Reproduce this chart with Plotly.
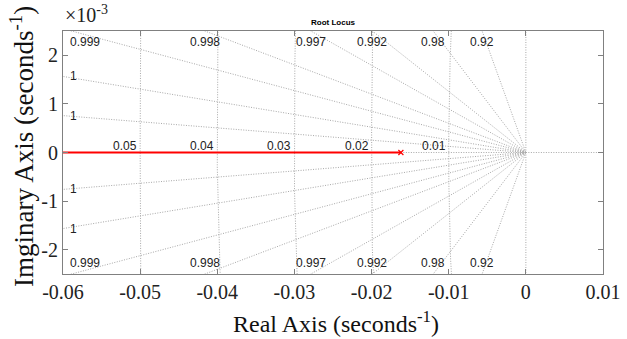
import numpy as np
import plotly.graph_objects as go

# ---- data ----
zeta_values = [0.915, 0.979, 0.9922, 0.9960, 0.9982, 0.9991, 0.99966, 0.99992]
zeta_labels = ["0.92", "0.98", "0.992", "0.997", "0.998", "0.999", "1", "1"]
wn_values = [0.01, 0.02, 0.03, 0.04, 0.05]
wn_labels = ["0.01", "0.02", "0.03", "0.04", "0.05"]
locus_real = [-0.07, -0.0162]
locus_imag = [0.0, 0.0]
pole_real = [-0.0162]
pole_imag = [0.0]
x_ticks = [-0.06, -0.05, -0.04, -0.03, -0.02, -0.01, 0.0, 0.01]
x_ticktext = ["-0.06", "-0.05", "-0.04", "-0.03", "-0.02", "-0.01", "0", "0.01"]
y_ticks = [-0.002, -0.001, 0.0, 0.001, 0.002]
y_ticktext = ["-2", "-1", "0", "1", "2"]

XMIN, XMAX = -0.06, 0.01
YMIN, YMAX = -0.0025, 0.0025

GRID = "#a8a8a8"
LBL = "#222222"
grid_line = dict(color=GRID, width=1, dash="1px,1.5px")

fig = go.Figure()

# real and imaginary axes of the s-plane
fig.add_trace(go.Scatter(x=[XMIN - 0.01, XMAX + 0.01], y=[0, 0], mode="lines",
                         line=grid_line, hoverinfo="skip", showlegend=False))
fig.add_trace(go.Scatter(x=[0, 0], y=[YMIN * 2, YMAX * 2], mode="lines",
                         line=grid_line, hoverinfo="skip", showlegend=False))

annotations = []
lblfont = dict(family="Liberation Sans, Arial", size=12, color=LBL)

# damping rays
for z, lab in zip(zeta_values, zeta_labels):
    s = np.sqrt(1 - z * z) / z
    xe = -0.08
    fig.add_trace(go.Scatter(x=[0, xe, None, 0, xe], y=[0, -s * xe, None, 0, s * xe],
                             mode="lines", line=grid_line, hoverinfo="skip",
                             showlegend=False))
    x_exit = -YMAX / s
    if x_exit > XMIN:
        xl = max(x_exit, XMIN + 0.0028)
        for sign in (1, -1):
            annotations.append(dict(x=xl, y=sign * 0.00227, text=lab, showarrow=False,
                                    xref="x", yref="y", xanchor="center",
                                    yanchor="middle", font=lblfont))
    else:
        yl = s * (-XMIN)
        for sign in (1, -1):
            annotations.append(dict(x=XMIN + 0.0013, y=sign * yl, text=lab,
                                    showarrow=False, xref="x", yref="y",
                                    xanchor="center", yanchor="middle", font=lblfont))

# natural frequency circles
th = np.linspace(np.pi / 2, 3 * np.pi / 2, 2001)
for w, lab in zip(wn_values, wn_labels):
    fig.add_trace(go.Scatter(x=w * np.cos(th), y=w * np.sin(th), mode="lines",
                             line=grid_line, hoverinfo="skip", showlegend=False))
    annotations.append(dict(x=-w, y=0.00013, text=lab, showarrow=False, xref="x",
                            yref="y", xanchor="right", yanchor="middle",
                            xshift=-1, font=lblfont))

# root locus branch
fig.add_trace(go.Scatter(x=locus_real, y=locus_imag, mode="lines",
                         line=dict(color="#ff0000", width=2), hoverinfo="skip",
                         showlegend=False))
fig.add_trace(go.Scatter(x=pole_real, y=pole_imag, mode="markers",
                         marker=dict(symbol="x-thin", size=5,
                                     line=dict(color="#ff0000", width=1.2)),
                         hoverinfo="skip", showlegend=False))

serif = "Liberation Serif, Times New Roman, serif"

# pixel geometry of the plot area
L, R, T, B = 63, 24, 31, 65
W, H = 627, 339
pw, ph = W - L - R, H - T - B


def px_x(px):
    return (px - L) / pw


def px_y(py):
    return 1 - (py - T) / ph


annotations += [
    dict(text="<b>Root Locus</b>", x=px_x(333), y=px_y(22), xref="paper", yref="paper",
         xanchor="center", yanchor="middle", showarrow=False,
         font=dict(family="Liberation Sans, Arial", size=8, color="#000")),
    dict(text="×10<sup>-3</sup>", x=px_x(63), y=px_y(28), xref="paper", yref="paper",
         xanchor="left", yanchor="bottom", showarrow=False,
         font=dict(family=serif, size=20, color="#222")),
    dict(text="Real Axis (seconds<sup>-1</sup>)", x=px_x(336), y=px_y(322),
         xref="paper", yref="paper", xanchor="center", yanchor="middle",
         showarrow=False, font=dict(family=serif, size=24, color="#111")),
    dict(text="Imginary Axis (seconds<sup>-1</sup>)", x=px_x(22), y=px_y(147),
         xref="paper", yref="paper", xanchor="center", yanchor="middle",
         textangle=-90, showarrow=False, font=dict(family=serif, size=27, color="#111")),
]

fig.update_layout(
    width=W, height=H,
    margin=dict(l=L, r=R, t=T, b=B),
    paper_bgcolor="white", plot_bgcolor="white",
    xaxis=dict(range=[XMIN, XMAX], tickvals=x_ticks, ticktext=x_ticktext,
               showgrid=False, zeroline=False, showline=True, linecolor="#808080",
               linewidth=1, mirror="ticks", ticks="inside", ticklen=5,
               tickcolor="#808080", automargin=False,
               tickfont=dict(family=serif, size=20, color="#222")),
    yaxis=dict(range=[YMIN, YMAX], tickvals=y_ticks, ticktext=y_ticktext,
               showgrid=False, zeroline=False, showline=True, linecolor="#808080",
               linewidth=1, mirror="ticks", ticks="inside", ticklen=5,
               tickcolor="#808080", automargin=False,
               tickfont=dict(family=serif, size=20, color="#222")),
    annotations=annotations,
)

fig.write_html("out.html", config={"displayModeBar": False},
               post_script="document.body.style.margin='0';document.body.style.padding='0';")
